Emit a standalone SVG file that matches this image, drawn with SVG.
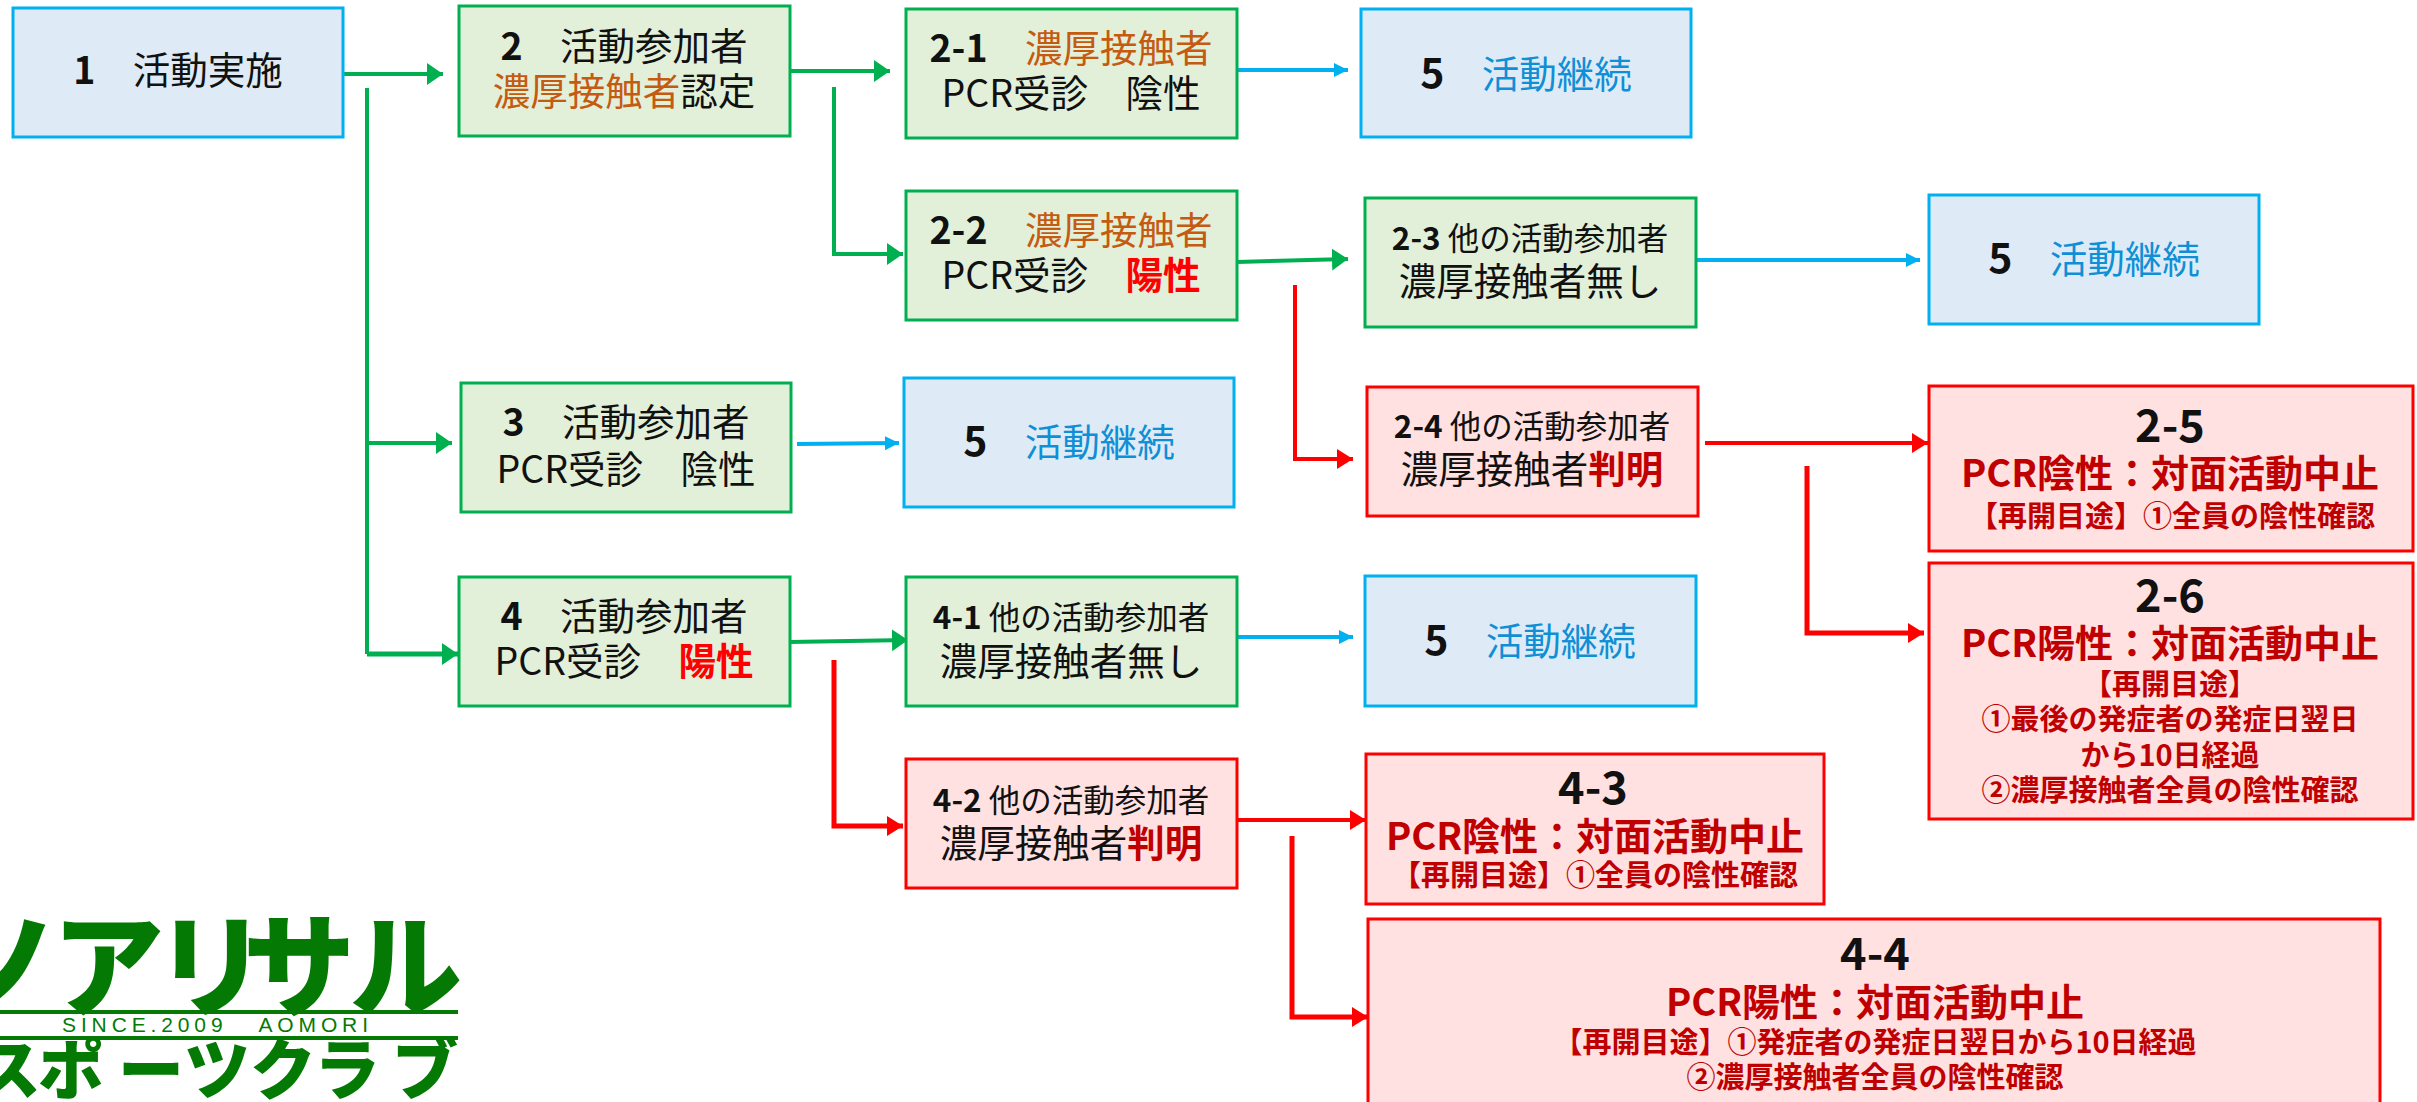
<svg xmlns="http://www.w3.org/2000/svg" width="2417" height="1102" viewBox="0 0 2417 1102">
<style>
text{font-family:"Noto Sans CJK JP","Noto Sans",sans-serif;text-anchor:middle;fill:#111}
.b{fill:#deebf7;stroke:#00b0f0;stroke-width:3}
.g{fill:#e2f0d9;stroke:#00b050;stroke-width:3}
.r{fill:#ffe1e1;stroke:#ff0000;stroke-width:3}
.m{font-size:37.5px}.s{font-size:31.5px}.n{font-weight:700}
.o{fill:#c55a11}.u{fill:#0f8fd6}.d{fill:#ff0000;font-weight:700}
.h{font-size:45px;font-weight:700}.t{font-size:38px;font-weight:700;fill:#c00000}.k{font-size:29px;font-weight:700;fill:#c00000}
.c{fill:none;stroke-width:4}.w{stroke-width:5}.cg{stroke:#00b050}.cb{stroke:#00b0f0}.cr{stroke:#ff0000}
.logo{fill:#047a04;font-weight:900}
</style>
<defs>
<marker id="ag" markerUnits="userSpaceOnUse" markerWidth="18" markerHeight="24" refX="16" refY="12" orient="auto"><path d="M0 1L16 12L0 23Z" fill="#00b050"/></marker>
<marker id="ab" markerUnits="userSpaceOnUse" markerWidth="18" markerHeight="20" refX="14" refY="9" orient="auto"><path d="M0 2L14 9L0 16Z" fill="#00b0f0"/></marker>
<marker id="ar" markerUnits="userSpaceOnUse" markerWidth="18" markerHeight="24" refX="16" refY="12" orient="auto"><path d="M0 2L16 12L0 22Z" fill="#ff0000"/></marker>
</defs>
<g id="connectors">
<path class="c cg" marker-end="url(#ag)" d="M343 74H443"/>
<path class="c cg" d="M367 88V654"/>
<path class="c cg" marker-end="url(#ag)" d="M367 443H452"/>
<path class="c cg w" marker-end="url(#ag)" d="M367 654H458"/>
<path class="c cg" marker-end="url(#ag)" d="M790 71H890"/>
<path class="c cg" marker-end="url(#ag)" d="M834 87V254H903"/>
<path class="c cb" marker-end="url(#ab)" d="M1237 70H1348"/>
<path class="c cg" marker-end="url(#ag)" d="M1237 262L1348 259"/>
<path class="c cr" marker-end="url(#ar)" d="M1295 285V459H1353"/>
<path class="c cb" marker-end="url(#ab)" d="M1696 260H1920"/>
<path class="c cb" marker-end="url(#ab)" d="M797 444L899 443"/>
<path class="c cg" marker-end="url(#ag)" d="M790 642L908 640"/>
<path class="c cb" marker-end="url(#ab)" d="M1237 637H1353"/>
<path class="c cr w" marker-end="url(#ar)" d="M834 660V826H903"/>
<path class="c cr" marker-end="url(#ar)" d="M1237 820H1366"/>
<path class="c cr w" marker-end="url(#ar)" d="M1292 836V1017H1368"/>
<path class="c cr" marker-end="url(#ar)" d="M1705 443H1928"/>
<path class="c cr w" marker-end="url(#ar)" d="M1807 466V633H1924"/>
</g>
<g id="n1"><rect class="b" x="13" y="8" width="330" height="129"/><text class="m" x="178" y="84"><tspan class="n">1</tspan>　活動実施</text></g>
<g id="n2"><rect class="g" x="459" y="6" width="331" height="130"/><text class="m" x="624" y="60"><tspan class="n">2</tspan>　活動参加者</text><text class="m" x="624" y="105"><tspan class="o">濃厚接触者</tspan>認定</text></g>
<g id="n2-1"><rect class="g" x="906" y="9" width="331" height="129"/><text class="m" x="1071" y="62"><tspan class="n">2-1</tspan>　<tspan class="o">濃厚接触者</tspan></text><text class="m" x="1071" y="107">PCR受診　陰性</text></g>
<g id="n2-2"><rect class="g" x="906" y="191" width="331" height="129"/><text class="m" x="1071" y="244"><tspan class="n">2-2</tspan>　<tspan class="o">濃厚接触者</tspan></text><text class="m" x="1071" y="289">PCR受診　<tspan class="d">陽性</tspan></text></g>
<g id="n2-3"><rect class="g" x="1365" y="198" width="331" height="129"/><text class="s" x="1530" y="250"><tspan class="n">2-3</tspan> 他の活動参加者</text><text class="m" x="1530" y="295">濃厚接触者無し</text></g>
<g id="n2-4"><rect class="r" x="1367" y="387" width="331" height="129"/><text class="s" x="1532" y="438"><tspan class="n">2-4</tspan> 他の活動参加者</text><text class="m" x="1532" y="483">濃厚接触者<tspan class="n" fill="#c00000">判明</tspan></text></g>
<g id="n5a"><rect class="b" x="1361" y="9" width="330" height="128"/><text class="m" x="1526" y="88"><tspan class="n" font-size="41">5</tspan>　<tspan class="u">活動継続</tspan></text></g>
<g id="n5b"><rect class="b" x="1929" y="195" width="330" height="129"/><text class="m" x="2094" y="273"><tspan class="n" font-size="41">5</tspan>　<tspan class="u">活動継続</tspan></text></g>
<g id="n5c"><rect class="b" x="904" y="378" width="330" height="129"/><text class="m" x="1069" y="456"><tspan class="n" font-size="41">5</tspan>　<tspan class="u">活動継続</tspan></text></g>
<g id="n5d"><rect class="b" x="1365" y="576" width="331" height="130"/><text class="m" x="1530" y="655"><tspan class="n" font-size="41">5</tspan>　<tspan class="u">活動継続</tspan></text></g>
<g id="n3"><rect class="g" x="461" y="383" width="330" height="129"/><text class="m" x="626" y="436"><tspan class="n">3</tspan>　活動参加者</text><text class="m" x="626" y="483">PCR受診　陰性</text></g>
<g id="n4"><rect class="g" x="459" y="577" width="331" height="129"/><text class="m" x="624" y="630"><tspan class="n">4</tspan>　活動参加者</text><text class="m" x="624" y="675">PCR受診　<tspan class="d">陽性</tspan></text></g>
<g id="n4-1"><rect class="g" x="906" y="577" width="331" height="129"/><text class="s" x="1071" y="629"><tspan class="n">4-1</tspan> 他の活動参加者</text><text class="m" x="1071" y="675">濃厚接触者無し</text></g>
<g id="n4-2"><rect class="r" x="906" y="759" width="331" height="129"/><text class="s" x="1071" y="812"><tspan class="n">4-2</tspan> 他の活動参加者</text><text class="m" x="1071" y="857">濃厚接触者<tspan class="n" fill="#c00000">判明</tspan></text></g>
<g id="n2-5"><rect class="r" x="1929" y="386" width="484" height="165"/><text class="h" x="2170" y="442">2-5</text><text class="t" x="2170" y="487">PCR陰性：対面活動中止</text><text class="k" x="2172" y="527">【再開目途】①全員の陰性確認</text></g>
<g id="n2-6"><rect class="r" x="1929" y="563" width="484" height="256"/><text class="h" x="2170" y="612">2-6</text><text class="t" x="2170" y="657">PCR陽性：対面活動中止</text><text class="k" x="2170" y="695">【再開目途】</text><text class="k" x="2170" y="730">①最後の発症者の発症日翌日</text><text class="k" x="2170" y="766">から10日経過</text><text class="k" x="2170" y="801">②濃厚接触者全員の陰性確認</text></g>
<g id="n4-3"><rect class="r" x="1366" y="754" width="458" height="150"/><text class="h" x="1593" y="804">4-3</text><text class="t" x="1595" y="850">PCR陰性：対面活動中止</text><text class="k" x="1595" y="886">【再開目途】①全員の陰性確認</text></g>
<g id="n4-4"><rect class="r" x="1368" y="919" width="1012" height="200"/><text class="h" x="1875" y="970">4-4</text><text class="t" x="1875" y="1016">PCR陽性：対面活動中止</text><text class="k" x="1875" y="1053">【再開目途】①発症者の発症日翌日から10日経過</text><text class="k" x="1875" y="1088">②濃厚接触者全員の陰性確認</text></g>
<g id="logo">
<text class="logo" font-size="112" style="text-anchor:start" x="-50 52 155 243 350" y="1008">ノアリサル</text>
<rect x="0" y="1010" width="458" height="4" fill="#047a04"/>
<text x="215" y="1032" font-size="21" textLength="306" style="font-family:'Liberation Sans',sans-serif;fill:#047a04" xml:space="preserve">SINCE.2009   AOMORI</text>
<rect x="0" y="1036" width="458" height="4" fill="#047a04"/>
<text class="logo" font-size="66" style="text-anchor:start" x="-25 38 118 184 250 314 392" y="1094">スポーツクラブ</text>
</g>
</svg>
